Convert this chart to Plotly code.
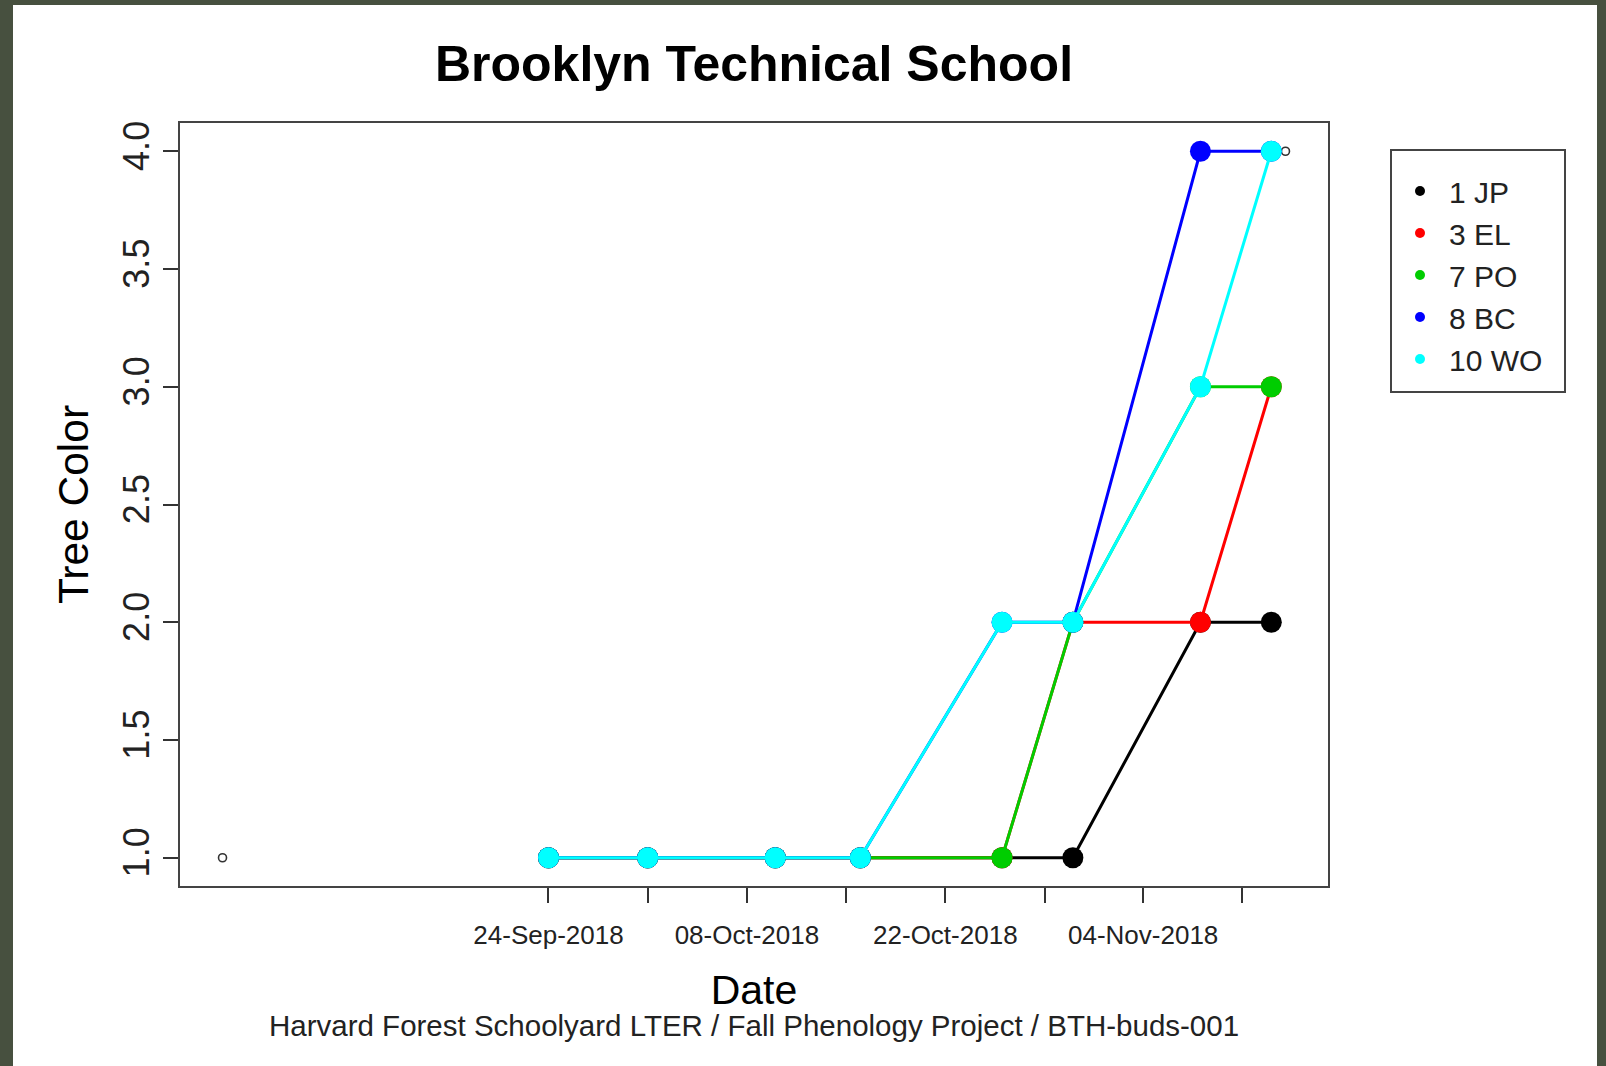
import plotly.graph_objects as go

# ---- data ----
dates = ["2018-09-24", "2018-10-01", "2018-10-10", "2018-10-16",
         "2018-10-26", "2018-10-31", "2018-11-09", "2018-11-14"]
series_names = ["1 JP", "3 EL", "7 PO", "8 BC", "10 WO"]
jp = [1, 1, 1, 1, 1, 1, 2, 2]
el = [1, 1, 1, 1, 1, 2, 2, 3]
po = [1, 1, 1, 1, 1, 2, 3, 3]
bc = [1, 1, 1, 1, 2, 2, 4, 4]
wo = [1, 1, 1, 1, 2, 2, 3, 4]
series_values = [jp, el, po, bc, wo]
colors = ["#000000", "#FF0000", "#00CD00", "#0000FF", "#00FFFF"]

frame_dates = ["2018-09-01", "2018-11-15"]
frame_values = [1.0, 4.0]

tick_dates = ["2018-09-24", "2018-10-01", "2018-10-08", "2018-10-15",
              "2018-10-22", "2018-10-29", "2018-11-04 23:00", "2018-11-11 23:00"]
tick_labels = ["24-Sep-2018", "", "08-Oct-2018", "", "22-Oct-2018", "",
               "04-Nov-2018", ""]
y_ticks = [1.0, 1.5, 2.0, 2.5, 3.0, 3.5, 4.0]

FONT = "Liberation Sans, Arial, Helvetica, sans-serif"
W, H = 1606, 1066
L, R, T, B = 180, 1328, 123, 886
PW, PH = R - L, B - T


def px(xp):
    return (xp - L) / PW


def py(yp):
    return (B - yp) / PH


fig = go.Figure()

# small open circles from the initial frame plot
fig.add_trace(go.Scatter(
    x=frame_dates, y=frame_values, mode="markers",
    marker=dict(symbol="circle-open", size=8, color="#333333",
                line=dict(width=1.6, color="#333333")),
    showlegend=False, hoverinfo="skip"))

for name, vals, col in zip(series_names, series_values, colors):
    fig.add_trace(go.Scatter(
        x=dates, y=vals, mode="lines+markers", name=name,
        line=dict(color=col, width=3),
        marker=dict(color=col, size=21),
        showlegend=False))

# legend entries (dots only, like R's legend with pch)
for name, col in zip(series_names, colors):
    fig.add_trace(go.Scatter(
        x=[None], y=[None], mode="markers", name=name,
        marker=dict(color=col, size=10), showlegend=True))

fig.update_layout(
    width=W, height=H,
    paper_bgcolor="#47503F",
    plot_bgcolor="white",
    margin=dict(l=L, r=W - R, t=T, b=H - B, autoexpand=False),
    font=dict(family=FONT, color="#111111"),
    title=dict(text="<b>Brooklyn Technical School</b>",
               font=dict(size=50, family=FONT, color="#000000"),
               x=0.5, xref="paper", xanchor="center",
               y=1 - 63 / H, yref="container", yanchor="middle"),
    showlegend=True,
    legend=dict(x=px(1391), y=py(275),
                xanchor="left", yanchor="middle",
                bgcolor="rgba(0,0,0,0)", borderwidth=0,
                font=dict(size=30, family=FONT, color="#222222"),
                itemwidth=48, tracegroupgap=0),
    shapes=[
        dict(type="rect", xref="paper", yref="paper",
             x0=px(13), x1=px(1597), y0=py(H + 10), y1=py(5),
             fillcolor="white", line=dict(width=0), layer="below"),
        dict(type="rect", xref="paper", yref="paper",
             x0=px(1391), x1=px(1565), y0=py(392), y1=py(150),
             fillcolor="rgba(0,0,0,0)", line=dict(width=2, color="#444444"),
             layer="above"),
    ],
)

fig.update_xaxes(
    type="date", range=["2018-08-29", "2018-11-18"],
    tickmode="array", tickvals=tick_dates, ticktext=tick_labels,
    ticks="outside", ticklen=15, tickwidth=2, tickcolor="#333333",
    tickfont=dict(size=26, family=FONT, color="#222222"),
    ticklabelstandoff=10,
    showgrid=False, zeroline=False,
    showline=True, mirror=True, linecolor="#444444", linewidth=2,
    title=dict(text="Date", font=dict(size=41, family=FONT, color="#000000"),
               standoff=26),
)
fig.update_yaxes(
    range=[0.88, 4.12],
    tickmode="array", tickvals=y_ticks, tickformat=".1f",
    tickangle=-90,
    ticks="outside", ticklen=15, tickwidth=2, tickcolor="#333333",
    tickfont=dict(size=36, family=FONT, color="#222222"),
    showgrid=False, zeroline=False,
    showline=True, mirror=True, linecolor="#444444", linewidth=2,
    title=dict(text="Tree Color", font=dict(size=42.5, family=FONT, color="#000000"),
               standoff=14),
)

fig.add_annotation(
    text="Harvard Forest Schoolyard LTER / Fall Phenology Project / BTH-buds-001",
    xref="paper", yref="paper", x=0.5, xanchor="center",
    y=py(1025), yanchor="middle", showarrow=False,
    font=dict(size=29.5, family=FONT, color="#222222"))

fig.write_html(
    "out.html",
    config={"displayModeBar": False},
    post_script="document.body.style.margin='0px';document.body.style.overflow='hidden';")
